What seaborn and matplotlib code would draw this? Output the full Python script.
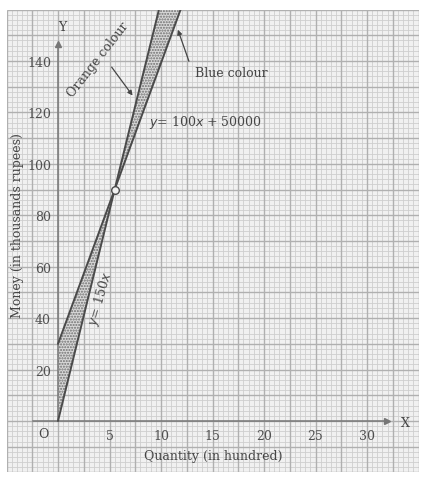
import numpy as np
import pandas as pd
import matplotlib
matplotlib.use("Agg")
import matplotlib.pyplot as plt
import seaborn as sns

# ---- data ----
line_150x_x = [0, 5.5, 9.8]          # y = 150x (steeper line from origin)
line_150x_y = [0, 90, 160]
line_100x_x = [0, 5.5, 11.9]         # y = 100x + 50000
line_100x_y = [30, 90, 160]
intersection = (5.5, 90)
x_ticks = [5, 10, 15, 20, 25, 30]
y_ticks = [20, 40, 60, 80, 100, 120, 140]

sns.set_theme(style="white")
plt.rcParams["font.family"] = ["DejaVu Serif", "DejaVu Sans"]

W, H = 426, 481
fig = plt.figure(figsize=(W / 100, H / 100), dpi=100)
fig.patch.set_facecolor("white")
ax = fig.add_axes([6.5 / W, (H - 473.4) / H, 412 / W, 462.8 / H])
ax.set_xlim(-5, 35)
ax.set_ylim(-20, 160)
ax.set_facecolor("#f1f1f1")

# graph paper
ax.vlines(np.arange(-5, 35.01, 0.5), -20, 160, color="#cfcfcf", lw=0.6, zorder=0)
ax.hlines(np.arange(-20, 160.01, 2), -5, 35, color="#cfcfcf", lw=0.6, zorder=0)
ax.vlines(np.arange(-5, 35.01, 2.5), -20, 160, color="#b0b0b0", lw=1.0, zorder=0.5)
ax.hlines(np.arange(-20, 160.01, 10), -5, 35, color="#b0b0b0", lw=1.0, zorder=0.5)

ink = "#4a4a4a"

# shaded regions between the lines
xs = np.linspace(0, line_100x_x[-1], 400)
ya = np.interp(xs, line_150x_x, line_150x_y)
yb = np.interp(xs, line_100x_x, line_100x_y)
ax.fill_between(xs, ya, yb, facecolor="#d8d8d8", edgecolor="#6f6f6f",
                hatch="......", linewidth=0, zorder=1)

df_a = pd.DataFrame({"x": line_150x_x, "y": line_150x_y})
df_b = pd.DataFrame({"x": line_100x_x, "y": line_100x_y})
sns.lineplot(data=df_a, x="x", y="y", ax=ax, color=ink, lw=1.4, zorder=3)
sns.lineplot(data=df_b, x="x", y="y", ax=ax, color=ink, lw=1.4, zorder=3)
ax.plot([intersection[0]], [intersection[1]], "o", ms=5.5, mfc="#f1f1f1",
        mec=ink, mew=1.0, zorder=4)

# axes through the origin
for s in ["top", "right"]:
    ax.spines[s].set_visible(False)
ax.spines["left"].set_position(("data", 0))
ax.spines["bottom"].set_position(("data", 0))
ax.spines["left"].set_bounds(0, 146.5)
ax.spines["bottom"].set_bounds(-2.4, 31.9)
for s in ["left", "bottom"]:
    ax.spines[s].set_color("#777777")
    ax.spines[s].set_linewidth(1.1)
    ax.spines[s].set_zorder(2)
ax.plot([31.9], [0], ">", color="#777777", ms=5, clip_on=False, zorder=3)
ax.plot([0], [146.5], "^", color="#777777", ms=5, clip_on=False, zorder=3)

ax.set_xticks(x_ticks)
ax.set_xticklabels([str(v) for v in x_ticks])
ax.set_yticks(y_ticks)
ax.set_yticklabels([str(v) for v in y_ticks])
ax.tick_params(axis="x", direction="inout", length=5, width=1, color="#777777",
               pad=3, labelsize=9, labelcolor="#505050")
ax.tick_params(axis="y", direction="out", length=4, width=1, color="#777777",
               pad=1, labelsize=9, labelcolor="#505050")
ax.set_xlabel("")
ax.set_ylabel("")

txt = dict(color="#454545", fontsize=9)
ax.text(-1.46, -4.7, "O", ha="center", va="center", **txt)
ax.text(33.7, -0.4, "X", ha="center", va="center", **txt)
ax.text(0.4, 153.6, "Y", ha="center", va="center", **txt)
ax.text(15.05, -13.6, "Quantity (in hundred)", ha="center", va="center", **txt)
ax.text(-3.98, 76.2, "Money (in thousands rupees)", ha="center", va="center",
        rotation=90, **txt)
ax.text(8.8, 116.3, "$y$= 100$x$ + 50000", ha="left", va="center", **txt)
ax.text(16.8, 135.7, "Blue colour", ha="center", va="center", **txt)
ax.text(3.9, 140.8, "Orange colour", ha="center", va="center", rotation=52,
        rotation_mode="anchor", **txt)
ax.text(4.1, 47.8, "$y$= 150$x$", ha="center", va="center", rotation=74,
        rotation_mode="anchor", **txt)

arrow = dict(arrowstyle="-|>", color="#454545", lw=0.9, mutation_scale=7)
ax.annotate("", xy=(11.55, 153.2), xytext=(12.8, 138.9), arrowprops=arrow)
ax.annotate("", xy=(7.4, 125.7), xytext=(5.05, 138.5), arrowprops=arrow)

fig.savefig("out.png", dpi=100)
